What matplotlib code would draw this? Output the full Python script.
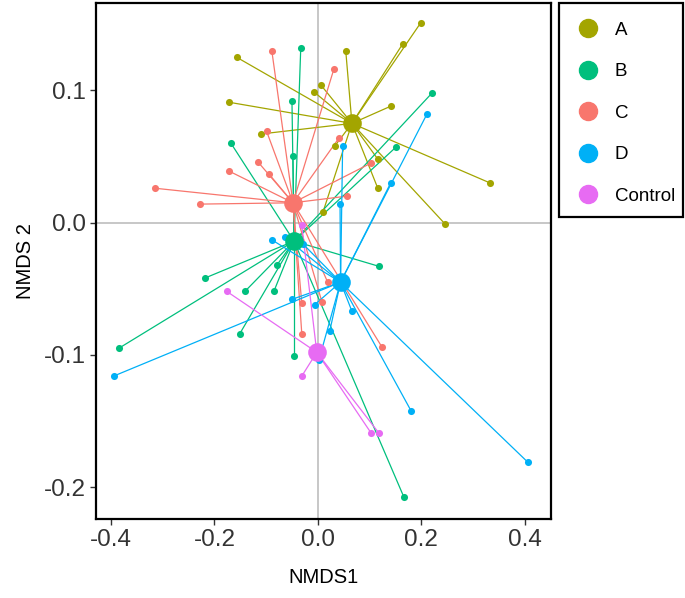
import numpy as np
import matplotlib.pyplot as plt
from matplotlib.patches import Rectangle
from matplotlib.lines import Line2D

plt.rcParams['font.family'] = ['Liberation Sans', 'DejaVu Sans']

groups = ["A", "B", "C", "D", "Control"]
colors = ["#A3A500", "#00BF7D", "#F8766D", "#00B0F6", "#E76BF3"]

# group centroids (NMDS1, NMDS2)
cent_x = [0.066, -0.046, -0.048, 0.044, -0.002]
cent_y = [0.075, -0.014, 0.015, -0.045, -0.098]

# sample scores per group
a_x = [-0.157, 0.006, -0.008, -0.172, -0.110, 0.199, 0.164, 0.054, 0.141, 0.033, 0.116, 0.333, 0.116, 0.010, 0.246]
a_y = [0.125, 0.104, 0.099, 0.091, 0.067, 0.151, 0.135, 0.130, 0.088, 0.058, 0.048, 0.030, 0.026, 0.008, -0.001]

b_x = [-0.033, -0.050, -0.168, -0.048, 0.221, 0.151, 0.118, -0.079, -0.219, -0.141, -0.085, -0.151, -0.385, -0.046, 0.166]
b_y = [0.132, 0.092, 0.060, 0.050, 0.098, 0.057, -0.033, -0.032, -0.042, -0.052, -0.052, -0.084, -0.095, -0.101, -0.207]

c_x = [-0.089, -0.099, -0.116, -0.172, -0.095, -0.315, -0.228, 0.031, 0.041, 0.103, 0.056, 0.019, -0.031, 0.008, 0.124, -0.031]
c_y = [0.130, 0.069, 0.046, 0.039, 0.037, 0.026, 0.014, 0.116, 0.064, 0.045, 0.020, -0.045, -0.061, -0.060, -0.094, -0.084]

d_x = [0.211, 0.048, 0.141, 0.043, -0.089, -0.064, -0.029, -0.050, -0.006, 0.066, 0.023, 0.002, -0.395, 0.180, 0.406]
d_y = [0.082, 0.058, 0.030, 0.014, -0.013, -0.011, -0.016, -0.058, -0.062, -0.067, -0.082, -0.104, -0.116, -0.142, -0.181]

ctrl_x = [-0.031, -0.176, -0.031, 0.103, 0.118]
ctrl_y = [-0.002, -0.052, -0.116, -0.159, -0.159]

xs = [a_x, b_x, c_x, d_x, ctrl_x]
ys = [a_y, b_y, c_y, d_y, ctrl_y]

fig = plt.figure(figsize=(6.85, 5.98), dpi=100)
ax = fig.add_axes([96/685, 1-519/598, 455/685, 516/598])

ax.axhline(0, color="#BEBEBE", linewidth=1.2, zorder=0)
ax.axvline(0, color="#BEBEBE", linewidth=1.2, zorder=0)

# spider lines
for i in range(len(groups)):
    for px, py in zip(xs[i], ys[i]):
        ax.plot([cent_x[i], px], [cent_y[i], py], color=colors[i], linewidth=0.9, zorder=1)

for i in range(len(groups)):
    ax.scatter(xs[i], ys[i], s=26, color=colors[i], zorder=2, linewidths=0)

for i in range(len(groups)):
    ax.scatter(cent_x[i], cent_y[i], s=180, color=colors[i], zorder=3, linewidths=0)

ax.set_xlim(-0.429, 0.451)
ax.set_ylim(-0.224, 0.166)
ax.set_xticks([-0.4, -0.2, 0.0, 0.2, 0.4])
ax.set_yticks([-0.2, -0.1, 0.0, 0.1])
ax.set_xticklabels(["-0.4", "-0.2", "0.0", "0.2", "0.4"])
ax.set_yticklabels(["-0.2", "-0.1", "0.0", "0.1"])
ax.tick_params(labelsize=17.5, labelcolor="#333333", color="#333333", length=4, width=1)
for s in ax.spines.values():
    s.set_linewidth(1.6)
    s.set_color("black")

ax.set_xlabel("NMDS1", fontsize=14.5, labelpad=12)
ax.set_ylabel("NMDS 2", fontsize=14.5, labelpad=6)

# legend
fig.patches.append(Rectangle((559/685, 1-217/598), 124/685, 214/598, transform=fig.transFigure,
                             fill=False, edgecolor="black", linewidth=1.6))
handles = [Line2D([], [], linestyle="none", marker="o", markersize=13, color=c) for c in colors]
fig.legend(handles, groups, loc="upper left", bbox_to_anchor=(566/685, 1-14/598),
           frameon=False, fontsize=13.5, labelspacing=1.3, handletextpad=0.7,
           borderaxespad=0, handlelength=1.5)

fig.savefig("out.png", dpi=100)
